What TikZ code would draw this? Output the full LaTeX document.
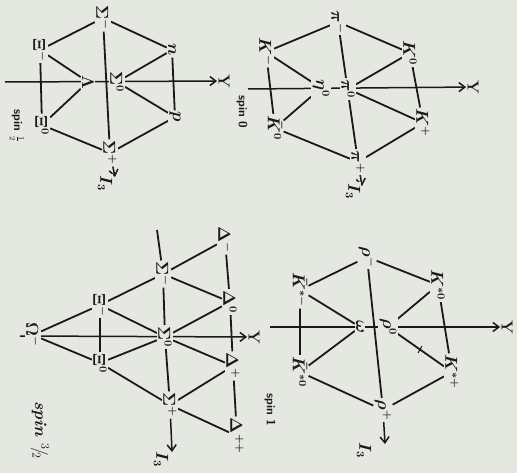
\documentclass[tikz,border=0pt]{standalone}
\usetikzlibrary{arrows.meta}
\definecolor{paper}{RGB}{229,232,225}
\definecolor{ink}{RGB}{25,25,25}
\pgfdeclarelayer{bg}
\pgfsetlayers{bg,main}
\tikzset{
  lab/.style={rotate=-90, inner sep=1.2pt, fill=paper, text=ink, font=\fontsize{16}{18}\selectfont\boldmath\bfseries},
  note/.style={rotate=-90, inner sep=1pt, text=ink, font=\fontsize{12}{14}\selectfont\bfseries\sffamily},
  ln/.style={draw=ink, line width=1.8pt},
  thinln/.style={draw=ink, line width=1pt},
  axis/.style={draw=ink, line width=1.5pt, -{Straight Barb[length=6pt,width=9pt]}},
}
\begin{document}
\begin{tikzpicture}[x=1pt,y=-1pt]
\begin{pgfonlayer}{bg}
\fill[paper] (0,0) rectangle (517,473);
\end{pgfonlayer}
\useasboundingbox (0,0) rectangle (517,473);

% ---------- Diagram 1: baryon octet, spin 1/2 ----------
\node[lab] (a-sm) at (103,18) {$\Sigma^-$};
\node[lab] (a-n)  at (172,50) {$n$};
\node[lab] (a-p)  at (175,117) {$p$};
\node[lab] (a-sp) at (110,153) {$\Sigma^+$};
\node[lab] (a-x0) at (42,125) {$\Xi^0$};
\node[lab] (a-xm) at (40,50) {$\Xi^-$};
\node[lab] (a-l)  at (88,82) {$\Lambda$};
\node[lab] (a-s0) at (117,82) {$\Sigma^0$};
\node[lab] (a-Y)  at (224,81) {Y};
\node[lab] (a-I)  at (105,183) {$I_3$};
\coordinate (a-ax) at (5,82);
\coordinate (a-it) at (115,177);
\node[note] (a-spin) at (17,126) {spin $\frac12$};
\begin{pgfonlayer}{bg}
\draw[ln] (a-sm) -- (a-n) -- (a-p) -- (a-sp) -- (a-x0) -- (a-xm) -- (a-sm);
\draw[ln] (a-xm) -- (a-l) -- (a-x0);
\draw[ln] (a-n) -- (a-s0) -- (a-p);
\draw[ln] (a-sm) -- (a-sp);
\draw[axis] (a-ax) -- (a-Y);
\draw[axis] (a-sp) -- (a-it);
\end{pgfonlayer}

% ---------- Diagram 3: pseudoscalar mesons, spin 0 ----------
\node[lab] (c-pm) at (338,22) {$\pi^-$};
\node[lab] (c-k0) at (410,53) {$K^0$};
\node[lab] (c-kp) at (423,123) {$K^+$};
\node[lab] (c-pp) at (358,162) {$\pi^+$};
\node[lab] (c-kb) at (275,128) {$\bar K^0$};
\node[lab] (c-km) at (266,52) {$K^-$};
\node[lab] (c-et) at (321,88) {$\eta^0$};
\node[lab] (c-p0) at (348,89) {$\pi^0$};
\node[lab] (c-Y)  at (473,87) {Y};
\node[lab] (c-I)  at (353,191) {$I_3$};
\coordinate (c-ax) at (248,89);
\coordinate (c-it) at (362,186);
\node[note] (c-spin) at (242,112) {spin 0};
\begin{pgfonlayer}{bg}
\draw[ln] (c-pm) -- (c-k0) -- (c-kp) -- (c-pp) -- (c-kb) -- (c-km) -- (c-pm);
\draw[ln] (c-km) -- (c-et) -- (c-kb);
\draw[ln] (c-k0) -- (c-p0) -- (c-kp);
\draw[ln] (c-pm) -- (c-pp);
\draw[axis] (c-ax) -- (c-Y);
\draw[axis] (c-pp) -- (c-it);
\end{pgfonlayer}

% ---------- Diagram 2: baryon decuplet, spin 3/2 ----------
\node[lab] (b-om) at (33,335) {$\Omega^-$};
\node[lab] (b-xm) at (100,305) {$\Xi^-$};
\node[lab] (b-x0) at (100,363) {$\Xi^0$};
\node[lab] (b-sm) at (163,274) {$\Sigma^-$};
\node[lab] (b-s0) at (165,337) {$\Sigma^0$};
\node[lab] (b-sp) at (170,405) {$\Sigma^+$};
\node[lab] (b-dm) at (225,240) {$\Delta^-$};
\node[lab] (b-d0) at (230,302) {$\Delta^0$};
\node[lab] (b-dp) at (233,366) {$\Delta^+$};
\node[lab] (b-dpp) at (237,436) {$\Delta^{++}$};
\node[lab] (b-Y)  at (254,337) {Y};
\node[lab] (b-I)  at (161,459) {$I_3$};
\coordinate (b-ax) at (20,336);
\coordinate (b-top) at (157,230);
\coordinate (b-it) at (172,452);
\node[note, font=\fontsize{17}{19}\selectfont\bfseries\itshape] (b-spin) at (40,430) {spin ${}^{3}\!/\!{}_{2}$};
\begin{pgfonlayer}{bg}
\draw[ln] (b-om) -- (b-xm) -- (b-sm) -- (b-dm) -- (b-d0) -- (b-dp) -- (b-dpp) -- (b-sp) -- (b-x0) -- (b-om);
\draw[ln] (b-xm) -- (b-x0);
\draw[ln] (b-xm) -- (b-s0) -- (b-x0);
\draw[ln] (b-sm) -- (b-d0) -- (b-s0) -- (b-dp) -- (b-sp);
\draw[ln] (b-top) -- (b-sm) -- (b-s0) -- (b-sp);
\draw[axis] (b-ax) -- (b-Y);
\draw[axis] (b-sp) -- (b-it);
\end{pgfonlayer}

% ---------- Diagram 4: vector mesons, spin 1 ----------
\node[lab] (d-rm) at (367,257) {$\rho^-$};
\node[lab] (d-k0) at (438,285) {$K^{*0}$};
\node[lab] (d-kp) at (452,372) {$K^{*+}$};
\node[lab] (d-rp) at (383,410) {$\rho^+$};
\node[lab] (d-kb) at (300,372) {$\bar K^{*0}$};
\node[lab] (d-km) at (300,290) {$\bar K^{*-}$};
\node[lab] (d-om) at (360,327) {$\omega$};
\node[lab] (d-r0) at (388,327) {$\rho^0$};
\node[lab] (d-Y)  at (507,327) {Y};
\node[lab] (d-I)  at (364,450) {$I_3$};
\coordinate (d-ax) at (270,327);
\coordinate (d-it) at (385,444);
\coordinate (d-t1) at (418,353);
\coordinate (d-t2) at (422,346);
\node[note] (d-spin) at (270,410) {spin 1};
\begin{pgfonlayer}{bg}
\draw[ln] (d-rm) -- (d-k0) -- (d-kp) -- (d-rp) -- (d-kb) -- (d-km) -- (d-rm);
\draw[ln] (d-km) -- (d-om) -- (d-kb);
\draw[ln] (d-k0) -- (d-r0) -- (d-kp);
\draw[ln] (d-rm) -- (d-rp);
\draw[axis] (d-ax) -- (d-Y);
\draw[axis] (d-rp) -- (d-it);
\draw[thinln] (d-t1) -- (d-t2);
\end{pgfonlayer}
\end{tikzpicture}
\end{document}
